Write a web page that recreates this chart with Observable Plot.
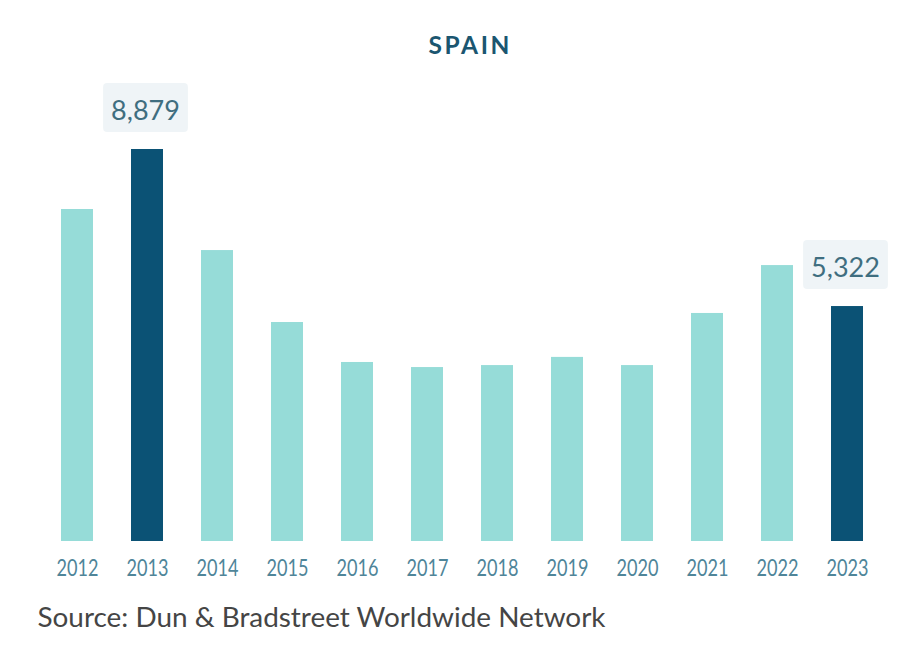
<!DOCTYPE html>
<html>
<head>
<meta charset="utf-8">
<script src="https://cdn.jsdelivr.net/npm/d3@7"></script>
<script src="https://cdn.jsdelivr.net/npm/@observablehq/plot@0.6"></script>
<style>
  html, body { margin: 0; padding: 0; background: #fff; }
  #chart svg { display: block; }
</style>
</head>
<body>
<div id="chart"></div>
<script>
const years = ["2012","2013","2014","2015","2016","2017","2018","2019","2020","2021","2022","2023"];
const values = [7520, 8879, 6590, 4960, 4055, 3940, 3985, 4170, 3985, 5165, 6250, 5322];
const highlighted = ["2013", "2023"];
const title = "SPAIN";
const source = "Source: Dun & Bradstreet Worldwide Network";

const data = years.map((y, i) => ({year: y, value: values[i], hi: highlighted.includes(y)}));
const labelled = data.filter(d => d.hi);
const fmt = d3.format(",");

const plot = Plot.plot({
  width: 908,
  height: 650,
  marginTop: 149,
  marginBottom: 109,
  marginLeft: 40,
  marginRight: 23,
  style: {fontFamily: "Lato, sans-serif", background: "#fff"},
  x: {domain: years, paddingInner: 0.54, paddingOuter: 0.27, label: null},
  y: {domain: [0, d3.max(values)], axis: null},
  marks: [
    Plot.barY(data, {x: "year", y: "value", fill: d => d.hi ? "#0b5275" : "#96dcd8"}),
    Plot.axisX({tickSize: 0, tickPadding: 17, fontSize: 24, fill: "#4f8599"}),
    Plot.text(labelled, {x: "year", y: "value", text: d => fmt(d.value), lineAnchor: "bottom", dx: -2, dy: -30, fontSize: 27, fill: "#3f6e80"}),
    Plot.text([title], {frameAnchor: "top", dx: 6, dy: -96, lineAnchor: "bottom", fontSize: 24.5, fontWeight: "bold", fill: "#1b5670"}),
    Plot.text([source], {frameAnchor: "bottom-left", dx: -3, dy: 85, lineAnchor: "bottom", textAnchor: "start", fontSize: 27, fill: "#454545"})
  ]
});

document.getElementById("chart").appendChild(plot);

const svg = d3.select(plot);
const tickSet = new Set(years);
const labelSet = new Set(labelled.map(d => fmt(d.value)));
svg.selectAll("text").each(function() {
  const t = this.textContent;
  const s = d3.select(this);
  if (tickSet.has(t)) {
    s.attr("textLength", 42).attr("lengthAdjust", "spacingAndGlyphs");
  } else if (t === title) {
    s.attr("textLength", 81).attr("lengthAdjust", "spacing");
  } else if (t === source) {
    s.attr("textLength", 568).attr("lengthAdjust", "spacingAndGlyphs");
  } else if (labelSet.has(t)) {
    const b = this.getBBox();
    const cy = b.y + b.height / 2;
    d3.select(this.parentNode).insert("rect", () => this)
      .attr("x", b.x - 8).attr("y", cy - 26)
      .attr("width", b.width + 16).attr("height", 49)
      .attr("rx", 4)
      .attr("fill", "#eff4f7")
      .attr("transform", this.getAttribute("transform"));
  }
});
</script>
</body>
</html>
